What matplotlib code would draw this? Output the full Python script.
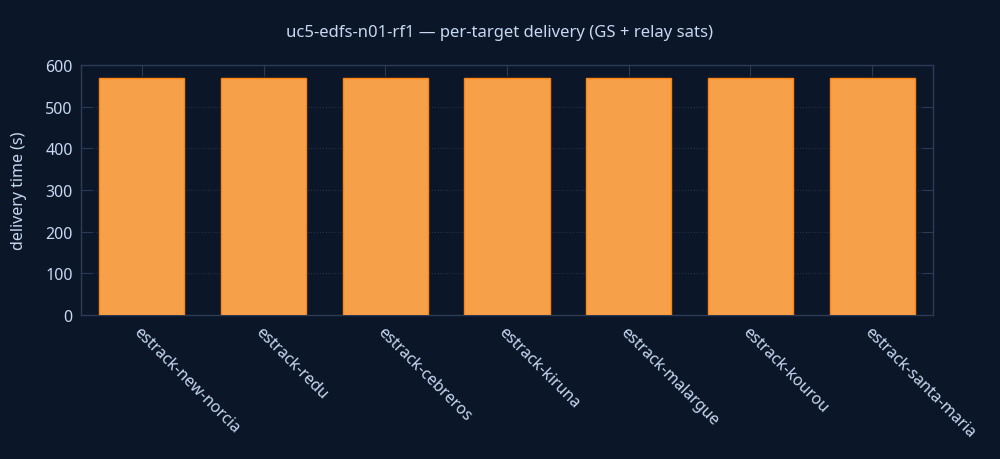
import matplotlib
matplotlib.use('Agg')
import matplotlib.pyplot as plt
import matplotlib.transforms as mtransforms

plt.rcParams['font.family'] = ['Noto Sans', 'DejaVu Sans']

BG = '#0b1628'
TXT = '#c8d8f2'
SPINE = '#2c3a55'

targets = ['estrack-new-norcia', 'estrack-redu', 'estrack-cebreros', 'estrack-kiruna',
           'estrack-malargue', 'estrack-kourou', 'estrack-santa-maria']
delivery_s = [570, 570, 570, 570, 570, 570, 570]

fig = plt.figure(figsize=(10, 4.6), dpi=100, facecolor=BG)
ax = fig.add_axes([0.081, 0.313, 0.852, 0.543])
ax.set_facecolor(BG)

x = range(len(targets))
ax.bar(x, delivery_s, width=0.7, color='#f7a04a', edgecolor='#ff8412', linewidth=1.0, zorder=3)

ax.set_xlim(-0.5, len(targets) - 0.5)
ax.set_ylim(0, 600)
ax.set_yticks([0, 100, 200, 300, 400, 500, 600])
ax.set_xticks(list(x))
ax.set_xticklabels(targets, rotation=-45, ha='left', rotation_mode='anchor')

# nudge rotated labels a little to the right, like the original
shift = mtransforms.ScaledTranslation(5 / 100, 0, fig.dpi_scale_trans)
for lbl in ax.get_xticklabels():
    lbl.set_transform(lbl.get_transform() + shift)

ax.grid(axis='y', color='#24314a', linestyle=':', linewidth=0.8, zorder=0)
for s in ax.spines.values():
    s.set_color(SPINE)
    s.set_linewidth(1.0)
ax.tick_params(direction='in', top=True, right=True, length=8, color=SPINE,
               labelcolor=TXT, labelsize=11.5, pad=6)

ax.set_ylabel('delivery time (s)', color=TXT, fontsize=11.5, labelpad=13)
fig.text(0.5, 0.928, 'uc5-edfs-n01-rf1 \u2014 per-target delivery (GS + relay sats)',
         color=TXT, fontsize=12, ha='center', va='center')

fig.savefig('out.png', dpi=100, facecolor=BG)
